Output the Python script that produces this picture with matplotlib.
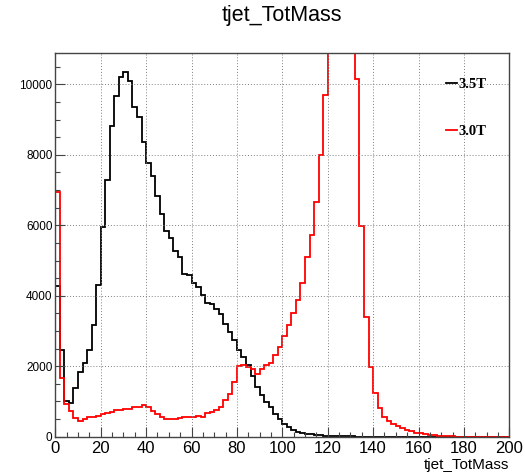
import numpy as np
import matplotlib
matplotlib.use("Agg")
import matplotlib.pyplot as plt

# 100 bins of width 2 from 0 to 200 (tjet_TotMass)
X_MIN, X_MAX, N_BINS = 0, 200, 100

# bin contents, 3.5T (black)
b35 = [4290, 2450, 1005, 965, 1380, 1850, 2090, 2450, 3170, 4310,
       5950, 7280, 8810, 9680, 10220, 10360, 10090, 9370, 9060, 8360,
       7760, 7400, 6840, 6310, 5840, 5640, 5260, 5110, 4630, 4590,
       4370, 4250, 4030, 3780, 3760, 3630, 3480, 3210, 2960, 2740,
       2450, 2250, 2035, 1710, 1420, 1190, 995, 845, 630, 507,
       347, 263, 188, 141, 103, 85, 66, 47, 38, 28,
       22, 17, 13, 10, 8, 6, 5, 4, 3, 3,
       2, 2, 1, 1, 1, 1, 1, 0, 0, 0,
       0, 0, 0, 0, 0, 0, 0, 0, 0, 0,
       0, 0, 0, 0, 0, 0, 0, 0, 0, 0]

# bin contents, 3.0T (red); bins 60-65 run off the top of the frame
b30 = [6930, 1670, 930, 730, 520, 450, 490, 550, 570, 590,
       630, 670, 700, 760, 770, 790, 800, 830, 840, 900,
       830, 720, 640, 570, 500, 500, 490, 520, 545, 565,
       545, 580, 550, 670, 700, 750, 845, 1030, 1220, 1550,
       2000, 2040, 1970, 1920, 1780, 1930, 2040, 2090, 2320, 2545,
       2870, 3180, 3515, 3880, 4360, 5100, 5710, 6650, 8000, 9700,
       12800, 15500, 17900, 18600, 16200, 13100, 10140, 5990, 3390, 1990,
       1245, 820, 557, 453, 368, 302, 236, 189, 160, 104,
       94, 66, 50, 38, 28, 18, 10, 6, 4, 3,
       2, 1, 1, 0, 0, 0, 0, 0, 0, 0]

labels = ["3.5T", "3.0T"]
colors = ["black", "#ff0000"]
Y_MAX = 10880

plt.rcParams["font.family"] = ["Liberation Sans", "DejaVu Sans"]

fig = plt.figure(figsize=(5.25, 4.73), dpi=100)
W, H = 525, 473
x0, x1, y0, y1 = 55.3, 509.3, 436.7, 53.3
ax = fig.add_axes([x0 / W, 1 - y0 / H, (x1 - x0) / W, (y0 - y1) / H])

edges = np.linspace(X_MIN, X_MAX, N_BINS + 1)
for vals, col, lab in zip([b35, b30], colors, labels):
    ax.stairs(vals, edges, color=col, lw=1.3, label=lab)

ax.set_xlim(X_MIN, X_MAX)
ax.set_ylim(0, Y_MAX)
ax.set_xticks(np.arange(0, 201, 20))
ax.set_xticks(np.arange(0, 201, 5), minor=True)
ax.set_yticks(np.arange(0, 10001, 2000))
ax.set_yticks(np.arange(0, 10501, 500), minor=True)
ax.grid(True, which="major", color="#808080", lw=0.7, ls=(0, (1, 2)))

for s in ax.spines.values():
    s.set_color("#444444")
    s.set_linewidth(1.0)
ax.tick_params(which="both", direction="in", top=False, right=False,
               color="#444444")
ax.tick_params(which="major", length=7, width=0.8)
ax.tick_params(which="minor", length=3.8, width=0.8)
ax.tick_params(axis="x", labelsize=12, pad=3)
ax.tick_params(axis="y", labelsize=8.5, pad=2)

fig.text(282.3 / W, 1 - 15 / H, "tjet_TotMass", ha="center", va="center",
         fontsize=15.5)
fig.text(x1 / W, 1 - 465 / H, "tjet_TotMass", ha="right", va="center",
         fontsize=11)

ax.legend(handles=[plt.Line2D([], [], color=c, lw=1.3) for c in colors],
          labels=labels, loc="upper left",
          bbox_to_anchor=(0.844, 0.955), frameon=False,
          handlelength=0.75, handletextpad=0.15, labelspacing=2.3,
          borderpad=0, prop={"family": "Liberation Serif",
                             "weight": "bold", "size": 10.5})

fig.savefig("out.png", dpi=100)
